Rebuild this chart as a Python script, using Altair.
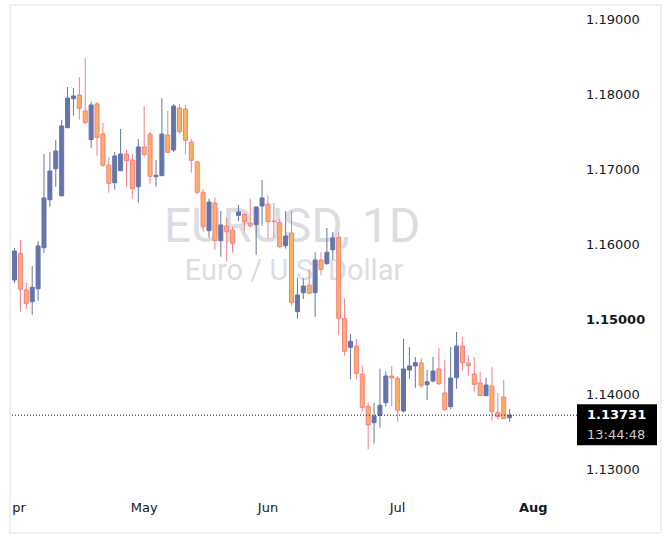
import altair as alt
import pandas as pd

# ---------------- data ----------------
idx = list(range(-1, 84))
opens = [1.15533, 1.15889, 1.15400, 1.15244, 1.15417, 1.15964, 1.16604, 1.17017, 1.16657, 1.17564,
         1.17951, 1.18000, 1.17787, 1.17407, 1.17880, 1.17480, 1.17067, 1.16831, 1.16991, 1.17213,
         1.17133, 1.16777, 1.17307, 1.17480, 1.16911, 1.16924, 1.17467, 1.17267, 1.17827, 1.17813,
         1.17373, 1.17107, 1.16703, 1.16191, 1.16560, 1.16057, 1.16253, 1.16200, 1.16396, 1.16409,
         1.16293, 1.16271, 1.16520, 1.16543, 1.16320, 1.16297, 1.15991, 1.16160, 1.15111, 1.15364,
         1.15463, 1.15364, 1.15800, 1.15751, 1.15937, 1.16103, 1.15023, 1.14636, 1.14653, 1.14276,
         1.13849, 1.13631, 1.13729, 1.13897, 1.14253, 1.14223, 1.13787, 1.14333, 1.14387, 1.14427,
         1.14137, 1.14187, 1.14347, 1.14027, 1.13844, 1.14231, 1.14653, 1.14427, 1.14280, 1.14160,
         1.13991, 1.14120, 1.13769, 1.13973, 1.13697]
highs = [1.15960, 1.16067, 1.15503, 1.15720, 1.16053, 1.17213, 1.17240, 1.17400, 1.17667, 1.18107,
         1.18093, 1.18240, 1.18493, 1.17907, 1.17907, 1.17627, 1.17173, 1.17240, 1.17547, 1.17267,
         1.17213, 1.17413, 1.17853, 1.17507, 1.17133, 1.17960, 1.17787, 1.17880, 1.17880, 1.17867,
         1.17413, 1.17120, 1.16747, 1.16617, 1.16631, 1.16453, 1.16364, 1.16240, 1.16533, 1.16427,
         1.16617, 1.16510, 1.16867, 1.16653, 1.16560, 1.16351, 1.16453, 1.16453, 1.15560, 1.15556,
         1.15676, 1.15903, 1.15903, 1.16227, 1.16173, 1.16169, 1.15289, 1.14813, 1.14751, 1.14396,
         1.13897, 1.13897, 1.14351, 1.14316, 1.14387, 1.14253, 1.14747, 1.14640, 1.14507, 1.14493,
         1.14337, 1.14507, 1.14627, 1.14467, 1.14640, 1.14840, 1.14773, 1.14533, 1.14507, 1.14307,
         1.14227, 1.14373, 1.14027, 1.14200, 1.13813]
lows = [1.15493, 1.15111, 1.15147, 1.15067, 1.15257, 1.15897, 1.16511, 1.16777, 1.16644, 1.17560,
        1.17727, 1.17673, 1.17609, 1.17297, 1.17191, 1.17044, 1.16697, 1.16737, 1.16987, 1.16777,
        1.16617, 1.16564, 1.17169, 1.16817, 1.16777, 1.16924, 1.17231, 1.17240, 1.17484, 1.17217,
        1.16964, 1.16676, 1.16177, 1.16097, 1.15937, 1.15844, 1.15777, 1.15897, 1.16320, 1.16187,
        1.16231, 1.15871, 1.16257, 1.16084, 1.16097, 1.15964, 1.15951, 1.15191, 1.15017, 1.15280,
        1.15350, 1.15044, 1.15596, 1.15737, 1.15804, 1.14796, 1.14524, 1.14209, 1.14209, 1.13777,
        1.13276, 1.13351, 1.13564, 1.13844, 1.13853, 1.13644, 1.13764, 1.14217, 1.14097, 1.14097,
        1.13933, 1.14169, 1.14133, 1.13791, 1.13809, 1.14084, 1.14324, 1.14257, 1.14044, 1.13985,
        1.13985, 1.13657, 1.13671, 1.13680, 1.13644]
closes = [1.15920, 1.15409, 1.15223, 1.15436, 1.15987, 1.16627, 1.16987, 1.17253, 1.17587, 1.17960,
          1.17987, 1.17823, 1.17631, 1.17867, 1.17436, 1.17063, 1.16823, 1.17187, 1.17213, 1.17124,
          1.16751, 1.17307, 1.17209, 1.16916, 1.16929, 1.17480, 1.17236, 1.17853, 1.17511, 1.17396,
          1.17129, 1.16703, 1.16244, 1.16573, 1.16057, 1.16267, 1.16177, 1.16023, 1.16440, 1.16311,
          1.16257, 1.16507, 1.16627, 1.16311, 1.16311, 1.15977, 1.16120, 1.15231, 1.15333, 1.15453,
          1.15356, 1.15800, 1.15676, 1.15903, 1.16093, 1.15023, 1.14583, 1.14716, 1.14289, 1.13836,
          1.13600, 1.13720, 1.13863, 1.14253, 1.14227, 1.13796, 1.14347, 1.14387, 1.14431, 1.14124,
          1.14177, 1.14320, 1.14151, 1.13804, 1.14227, 1.14653, 1.14431, 1.14391, 1.14143, 1.13991,
          1.14133, 1.13777, 1.13711, 1.13684, 1.13731]

months = ["Apr", "May", "Jun", "Jul", "Aug"]
month_idx = [-1, 21, 42, 64, 87]
month_bold = [False, False, False, False, True]

price_ticks = [1.13, 1.14, 1.15, 1.16, 1.17, 1.18, 1.19]
price_bold = [False, False, True, False, False, False, False]
last_price = closes[-1]
countdown = "13:44:48"
symbol = "EURUSD, 1D"
description = "Euro / U.S. Dollar"

# ---------------- frames ----------------
df = pd.DataFrame({"i": idx, "open": opens, "high": highs, "low": lows, "close": closes})
df["dir"] = ["up" if c > o else "down" for o, c in zip(opens, closes)]
mdf = pd.DataFrame({"m": months, "i": month_idx, "bold": month_bold})
tdf = pd.DataFrame({"v": price_ticks, "t": [f"{v:.5f}" for v in price_ticks], "bold": price_bold})
pdf = pd.DataFrame({"p": [last_price], "t": [f"{last_price:.5f}"], "c": [countdown]})
one = pd.DataFrame({"a": [0]})

W, H = 567, 484
FONT = "DejaVu Sans"
TXT = "#131722"
BLUE = "#6574a9"
ORANGE = "#fdb15f"
PINK = "#f47d88"

xs = alt.Scale(domain=[-0.91667, 93.58333], nice=False, zero=False)
ys = alt.Scale(domain=[1.1273333, 1.1918667], nice=False, zero=False)
fill_scale = alt.Scale(domain=["up", "down"], range=[BLUE, ORANGE])
stroke_scale = alt.Scale(domain=["up", "down"], range=[BLUE, PINK])

watermark = alt.Chart(one).mark_text(
    font="Roboto", fontSize=48, color="#dcdde2", align="center", baseline="middle"
).encode(x=alt.value(282), y=alt.value(222), text=alt.value(symbol))
watermark2 = alt.Chart(one).mark_text(
    font="Roboto", fontSize=29, color="#dcdde2", align="center", baseline="middle"
).encode(x=alt.value(284), y=alt.value(265), text=alt.value(description))

wicks = alt.Chart(df).mark_rule(strokeWidth=1, clip=True).encode(
    x=alt.X("i:Q", scale=xs, axis=None),
    y=alt.Y("low:Q", scale=ys, axis=None),
    y2="high:Q",
    color=alt.Color("dir:N", scale=stroke_scale, legend=None),
)

bodies = alt.Chart(df).mark_bar(width=4, strokeWidth=1, clip=True).encode(
    x=alt.X("i:Q", scale=xs, axis=None),
    y=alt.Y("open:Q", scale=ys, axis=None),
    y2="close:Q",
    fill=alt.Fill("dir:N", scale=fill_scale, legend=None),
    stroke=alt.Stroke("dir:N", scale=stroke_scale, legend=None),
)

ylab = alt.Chart(tdf).transform_filter("!datum.bold").mark_text(
    align="left", baseline="middle", font=FONT, fontSize=13, color=TXT
).encode(y=alt.Y("v:Q", scale=ys, axis=None), x=alt.value(W + 9), text="t:N")
ylab_b = alt.Chart(tdf).transform_filter("datum.bold").mark_text(
    align="left", baseline="middle", font=FONT, fontSize=13, fontWeight="bold", color=TXT
).encode(y=alt.Y("v:Q", scale=ys, axis=None), x=alt.value(W + 9), text="t:N")

price_line = alt.Chart(pdf).mark_rule(strokeDash=[1, 2], color="#131722", strokeWidth=1).encode(
    y=alt.Y("p:Q", scale=ys, axis=None)
)
price_box = alt.Chart(pdf).mark_rect(color="#000000", yOffset=-11, y2Offset=30).encode(
    y=alt.Y("p:Q", scale=ys, axis=None), y2="p:Q",
    x=alt.value(W), x2=alt.value(W + 80),
)
price_txt = alt.Chart(pdf).mark_text(
    align="left", baseline="middle", font=FONT, fontSize=13, fontWeight="bold", color="#ffffff"
).encode(y=alt.Y("p:Q", scale=ys, axis=None), x=alt.value(W + 10), text="t:N")
count_txt = alt.Chart(pdf).mark_text(
    align="left", baseline="middle", font=FONT, fontSize=13, color="#c8cad0", dy=20
).encode(y=alt.Y("p:Q", scale=ys, axis=None), x=alt.value(W + 10), text="c:N")

mlab = alt.Chart(mdf).transform_filter("!datum.bold").mark_text(
    align="center", baseline="middle", font=FONT, fontSize=13, color=TXT
).encode(x=alt.X("i:Q", scale=xs, axis=None), y=alt.value(502), text="m:N")
mlab_b = alt.Chart(mdf).transform_filter("datum.bold").mark_text(
    align="center", baseline="middle", font=FONT, fontSize=13, fontWeight="bold", color=TXT
).encode(x=alt.X("i:Q", scale=xs, axis=None), y=alt.value(502), text="m:N")

mask = alt.Chart(one).mark_rect(color="#ffffff").encode(
    x=alt.value(-10), x2=alt.value(2), y=alt.value(488), y2=alt.value(534)
)
border = alt.Chart(one).mark_rect(fillOpacity=0, stroke="#eff0f3", strokeWidth=2).encode(
    x=alt.value(0), x2=alt.value(651), y=alt.value(-1), y2=alt.value(527)
)

chart = alt.layer(
    watermark, watermark2, wicks, bodies, price_line, ylab, ylab_b, price_box, price_txt,
    count_txt, mlab, mlab_b, mask, border
).properties(
    width=W, height=H,
    padding={"left": 10, "top": 6, "right": 93, "bottom": 50},
    autosize=alt.AutoSizeParams(type="none"),
    background="#ffffff",
).configure_view(stroke=None)

chart.save("out.html", embed_options={"renderer": "svg", "actions": False})
